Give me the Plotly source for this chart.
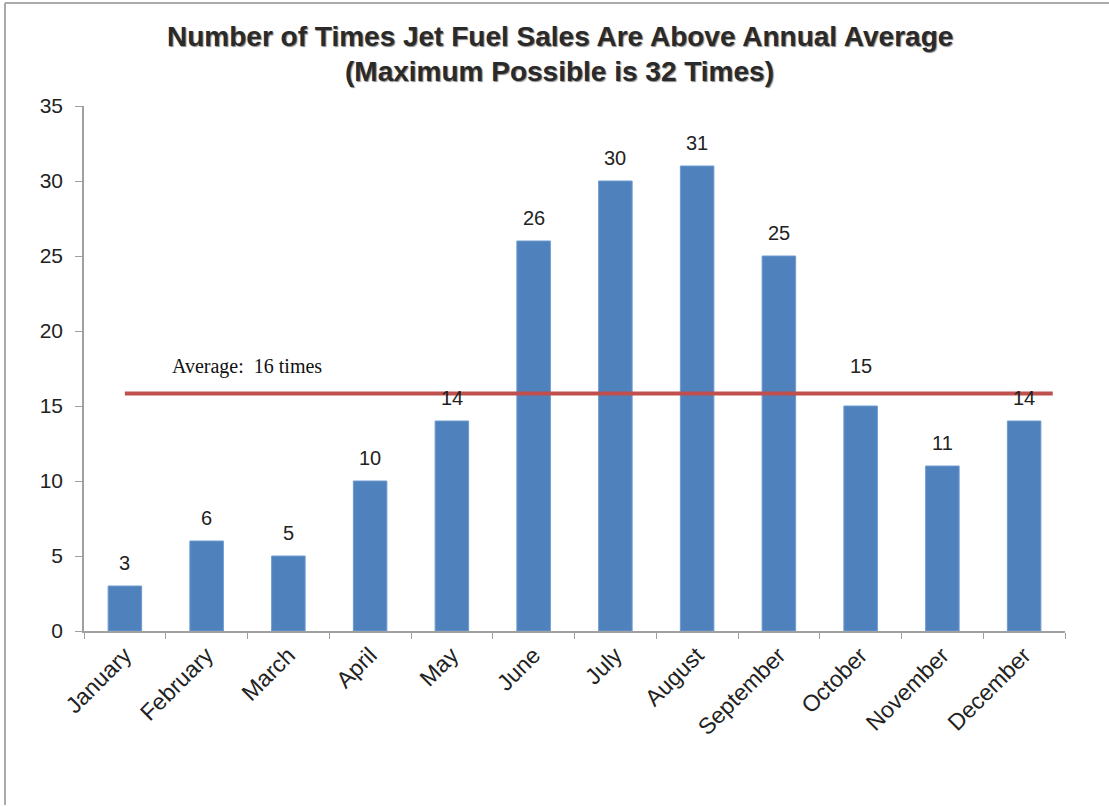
import plotly.graph_objects as go

months = ["January", "February", "March", "April", "May", "June", "July",
          "August", "September", "October", "November", "December"]
times_above = [3, 6, 5, 10, 14, 26, 30, 31, 25, 15, 11, 14]
y_ticks = [0, 5, 10, 15, 20, 25, 30, 35]
title_lines = ["Number of Times Jet Fuel Sales Are Above Annual Average",
               "(Maximum Possible is 32 Times)"]
avg_label = "Average:  16 times"

avg_value = sum(times_above) / len(times_above)

PLOT_TOP, PLOT_H = 106, 525

def paper_y(px):
    return (PLOT_TOP + PLOT_H - px) / PLOT_H

fig = go.Figure()
fig.add_trace(go.Bar(
    x=months, y=times_above,
    marker=dict(color="#4F81BD", line=dict(color="#6F9BD0", width=1)),
    width=0.41,
    hoverinfo="x+y",
))

# data labels (October label raised to clear the average line)
for m, v in zip(months, times_above):
    shift = 40 if m == "October" else 23
    fig.add_annotation(x=m, y=v, text=str(v), showarrow=False, yshift=shift,
                       font=dict(family="Arial, Liberation Sans", size=20, color="#222"))

# average line
fig.add_shape(type="line", xref="x", yref="y", x0=0, x1=11.35,
              y0=avg_value, y1=avg_value,
              line=dict(color="#C0504D", width=4))
fig.add_annotation(x=0.55, y=avg_value, xref="x", yref="y", text=avg_label,
                   showarrow=False, xanchor="left", yanchor="bottom", yshift=14,
                   font=dict(family="Liberation Serif, Times New Roman, serif", size=20, color="#111"))

# title (two centred lines)
for txt, ypx in zip(title_lines, [37, 71]):
    fig.add_annotation(x=0.485, y=paper_y(ypx), xref="paper", yref="paper",
                       text="<b>" + txt + "</b>", showarrow=False,
                       xanchor="center", yanchor="middle",
                       font=dict(family="Arial, Liberation Sans", size=28, color="#2a2a2a",
                                 shadow="1px 1px 1px #888"))

# chart frame (top and left edges)
fx = -79 / 981
fig.add_shape(type="line", xref="paper", yref="paper",
              x0=fx, x1=1.06, y0=paper_y(3), y1=paper_y(3),
              line=dict(color="#AAAAAA", width=2))
fig.add_shape(type="line", xref="paper", yref="paper",
              x0=fx, x1=fx, y0=paper_y(3), y1=paper_y(805),
              line=dict(color="#AAAAAA", width=2))

fig.update_layout(
    width=1109, height=807,
    margin=dict(l=84, r=44, t=106, b=176),
    paper_bgcolor="white", plot_bgcolor="white",
    showlegend=False,
)
fig.update_xaxes(
    type="category", showline=True, linecolor="#A0A0A0", linewidth=1.5,
    ticks="outside", tickson="boundaries", ticklen=6, tickcolor="#A0A0A0",
    tickangle=-45, tickfont=dict(family="Arial, Liberation Sans", size=23, color="#222"),
    range=[-0.5, 11.5], showgrid=False,
)
fig.update_yaxes(
    range=[0, 35], tickvals=y_ticks, showline=True, linecolor="#A0A0A0", linewidth=1.5,
    ticks="outside", ticklen=7, tickcolor="#A0A0A0", showgrid=False, zeroline=False,
    ticklabelstandoff=8,
    tickfont=dict(family="Arial, Liberation Sans", size=21, color="#222"),
)

fig.write_html("out.html")
